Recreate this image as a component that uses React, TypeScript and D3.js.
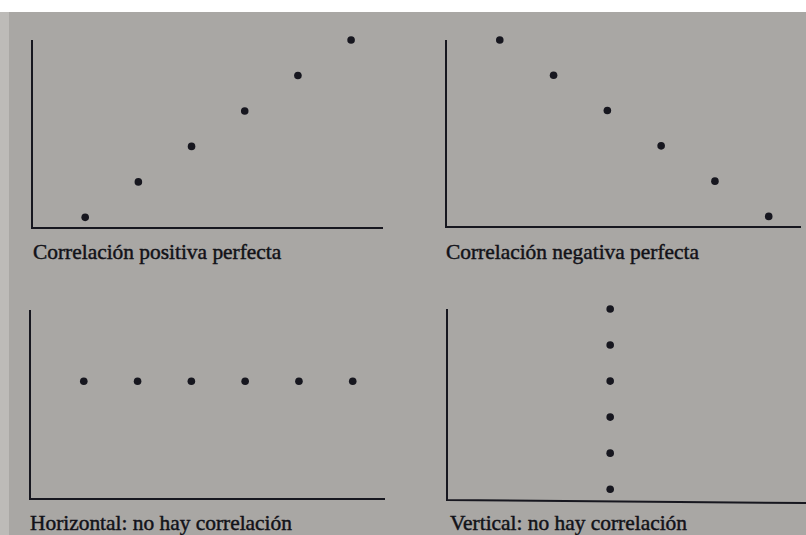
import React from "react";
import * as d3 from "d3";

// Four textbook scatter diagrams illustrating correlation types.
const positiveX = [0, 1, 2, 3, 4, 5];
const positiveY = [0, 1, 2, 3, 4, 5];

const negativeX = [0, 1, 2, 3, 4, 5];
const negativeY = [5, 4, 3, 2, 1, 0];

const horizontalX = [0, 1, 2, 3, 4, 5];
const horizontalY = [3, 3, 3, 3, 3, 3];

const verticalX = [2, 2, 2, 2, 2, 2];
const verticalY = [5, 4, 3, 2, 1, 0];

const captions = [
  "Correlación positiva perfecta",
  "Correlación negativa perfecta",
  "Horizontal: no hay correlación",
  "Vertical: no hay correlación",
];

const X_DOMAIN: [number, number] = [-1, 5.6];
const Y_DOMAIN: [number, number] = [-0.3, 5];

type Panel = {
  xs: number[];
  ys: number[];
  caption: string;
  left: number;
  right: number;
  top: number;
  bottom: number;
  tilt: number;
  labelX: number;
  labelY: number;
};

const panels: Panel[] = [
  { xs: positiveX, ys: positiveY, caption: captions[0], left: 32, right: 383, top: 40, bottom: 228, tilt: 0, labelX: 33, labelY: 259 },
  { xs: negativeX, ys: negativeY, caption: captions[1], left: 446, right: 801, top: 40, bottom: 227, tilt: 0, labelX: 446, labelY: 259 },
  { xs: horizontalX, ys: horizontalY, caption: captions[2], left: 30, right: 385, top: 310, bottom: 499, tilt: 0, labelX: 30, labelY: 530 },
  { xs: verticalX, ys: verticalY, caption: captions[3], left: 447, right: 806, top: 309, bottom: 500, tilt: 3, labelX: 450, labelY: 530 },
];

const INK = "#17171f";

function ScatterPanel({ p }: { p: Panel }) {
  const x = d3.scaleLinear().domain(X_DOMAIN).range([p.left, p.right]);
  const y = d3.scaleLinear().domain(Y_DOMAIN).range([p.bottom, p.top]);
  const axisPath = d3.line()([
    [p.left, p.top],
    [p.left, p.bottom],
    [p.right, p.bottom + p.tilt],
  ]) as string;
  return (
    <g>
      <path d={axisPath} fill="none" stroke={INK} strokeWidth={2} strokeLinejoin="miter" />
      {p.xs.map((v, i) => (
        <circle key={i} cx={x(v)} cy={y(p.ys[i])} r={3.8} fill={INK} />
      ))}
      <text
        x={p.labelX}
        y={p.labelY}
        fontFamily="'Liberation Serif', 'Times New Roman', serif"
        fontSize={21.4}
        fill="#121218"
        stroke="#121218"
        strokeWidth={0.45}
      >
        {p.caption}
      </text>
    </g>
  );
}

export default function App() {
  return (
    <svg
      width={806}
      height={535}
      viewBox="0 0 806 535"
      style={{ position: "absolute", left: 0, top: 0, display: "block" }}
    >
      <rect x={0} y={0} width={806} height={535} fill="#a9a7a4" />
      <rect x={0} y={0} width={9} height={535} fill="#bdbbb8" />
      <rect x={0} y={0} width={806} height={12} fill="#ffffff" />
      {panels.map((p, i) => (
        <ScatterPanel key={i} p={p} />
      ))}
    </svg>
  );
}
